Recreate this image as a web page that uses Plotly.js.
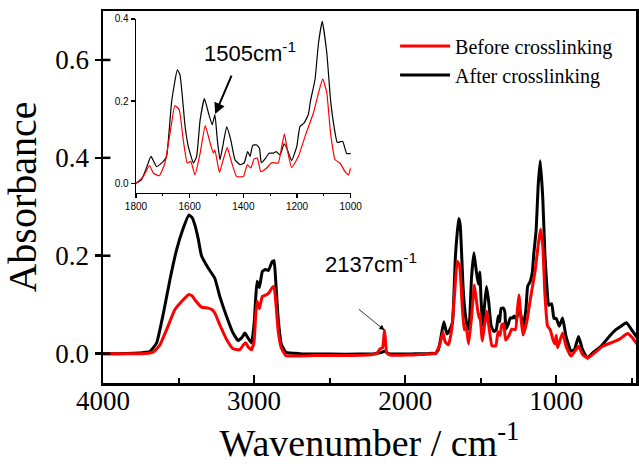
<!DOCTYPE html>
<html>
<head>
<meta charset="utf-8">
<script src="https://cdn.plot.ly/plotly-3.0.1.min.js"></script>
<style>
  html, body { margin: 0; padding: 0; background: #fff; }
  #chart { width: 639px; height: 466px; }
</style>
</head>
<body>
<div id="chart"></div>
<script>
// FTIR spectra of the film before and after crosslinking (absorbance vs wavenumber)
const afterWn = [
  4000, 3900, 3800, 3740, 3690, 3645, 3600, 3557, 3513, 3469,
  3432, 3410, 3392, 3370, 3348, 3304, 3260, 3227, 3182, 3139,
  3106, 3080, 3061, 3040, 3017, 3000, 2990, 2980, 2965, 2945,
  2925, 2905, 2880, 2868, 2855, 2840, 2820, 2790, 2700, 2500,
  2300, 2200, 2160, 2137, 2110, 2000, 1900, 1850, 1820,
  1800, 1780, 1765, 1744, 1723, 1698, 1686, 1667, 1646, 1636,
  1617, 1605, 1586, 1574, 1561, 1545, 1530, 1516, 1506, 1497,
  1487, 1477, 1462, 1447, 1431, 1412, 1397, 1384, 1375, 1365,
  1350, 1340, 1333, 1319, 1304, 1288, 1278, 1263, 1248, 1238,
  1220, 1201, 1189, 1174, 1158, 1149, 1133, 1120, 1106, 1089,
  1075, 1062, 1050, 1030, 1015, 1000,
  980, 958, 935, 902, 880, 852, 826, 793, 760, 704,
  649, 605, 572, 535, 495, 462
];
const afterAbs = [
  0.000, 0.000, 0.001, 0.002, 0.004, 0.022, 0.083, 0.151, 0.212, 0.256,
  0.283, 0.278, 0.263, 0.235, 0.200, 0.175, 0.154, 0.117, 0.076, 0.042,
  0.027, 0.033, 0.042, 0.032, 0.022, 0.060, 0.110, 0.148, 0.135, 0.168,
  0.172, 0.170, 0.188, 0.190, 0.140, 0.070, 0.020, 0.003, 0.000, -0.001,
  -0.001, 0.000, 0.002, 0.005, 0.000, -0.001, 0.000, 0.000, 0.001,
  0.000, 0.008, 0.030, 0.065, 0.040, 0.053, 0.065, 0.200, 0.276, 0.264,
  0.138, 0.089, 0.049, 0.065, 0.154, 0.206, 0.171, 0.142, 0.167, 0.106,
  0.057, 0.089, 0.137, 0.106, 0.057, 0.045, 0.049, 0.077, 0.065, 0.092,
  0.093, 0.085, 0.050, 0.059, 0.073, 0.073, 0.077, 0.069, 0.096, 0.085,
  0.055, 0.089, 0.138, 0.146, 0.167, 0.203, 0.252, 0.341, 0.394, 0.317,
  0.203, 0.138, 0.099, 0.102, 0.072, 0.072,
  0.056, 0.073, 0.035, 0.005, 0.008, 0.035, 0.008, -0.009, 0.001, 0.015,
  0.035, 0.049, 0.056, 0.063, 0.046, 0.032
];

const beforeWn = [
  4000, 3850, 3750, 3700, 3667, 3623, 3579, 3524, 3469, 3432,
  3410, 3392, 3348, 3304, 3280, 3260, 3227, 3182, 3139, 3095,
  3070, 3055, 3040, 3017, 3000, 2990, 2980, 2965, 2945, 2920,
  2900, 2880, 2868, 2855, 2840, 2820, 2790, 2600, 2400, 2250,
  2190, 2165, 2150, 2142, 2137, 2131, 2122, 2100, 2000, 1900,
  1850, 1820,
  1800, 1773, 1750, 1735, 1713, 1692, 1673, 1655, 1639, 1624,
  1609, 1596, 1580, 1561, 1542, 1524, 1512, 1506, 1489, 1475,
  1460, 1443, 1425, 1400, 1385, 1372, 1360, 1348, 1335, 1313,
  1294, 1270, 1257, 1247, 1236, 1220, 1195, 1170, 1139, 1120,
  1104, 1089, 1075, 1058, 1040, 1021, 1008, 1000,
  991, 958, 935, 902, 852, 826, 793, 748, 693, 638,
  583, 528, 495, 462
];
const beforeAbs = [
  0.000, 0.000, 0.000, 0.001, 0.003, 0.018, 0.049, 0.090, 0.110, 0.121,
  0.118, 0.110, 0.095, 0.093, 0.090, 0.083, 0.059, 0.029, 0.010, 0.008,
  0.018, 0.022, 0.014, 0.008, 0.025, 0.075, 0.107, 0.092, 0.117, 0.120,
  0.125, 0.135, 0.137, 0.100, 0.045, 0.012, -0.004, -0.004, -0.004, -0.003,
  0.000, 0.010, 0.012, 0.030, 0.048, 0.030, 0.002, -0.003, -0.003, -0.002,
  -0.001, 0.000,
  0.000, 0.016, 0.043, 0.024, 0.018, 0.049, 0.122, 0.189, 0.179, 0.106,
  0.049, 0.053, 0.020, 0.073, 0.140, 0.098, 0.073, 0.081, 0.026, 0.057,
  0.087, 0.049, 0.016, 0.016, 0.045, 0.037, 0.059, 0.061, 0.028, 0.037,
  0.050, 0.049, 0.089, 0.120, 0.081, 0.038, 0.065, 0.114, 0.171, 0.220,
  0.254, 0.220, 0.122, 0.057, 0.049, 0.028, 0.020, 0.037,
  0.012, 0.042, 0.015, -0.005, 0.015, -0.002, -0.009, 0.001, 0.015, 0.022,
  0.029, 0.041, 0.032, 0.018
];

const seriesNames = ['Before crosslinking', 'After crosslinking'];
const seriesColors = ['#ff0000', '#000000'];
const mainTicks = [4000, 3000, 2000, 1000];
const mainYTicks = [0, 0.2, 0.4, 0.6];
const insetTicks = [1800, 1600, 1400, 1200, 1000];
const insetYTicks = [0, 0.2, 0.4];
const peakLabels = [{ wn: 2137, text: '2137cm<sup>-1</sup>' }, { wn: 1505, text: '1505cm<sup>-1</sup>' }];

const serif = 'Liberation Serif, Times New Roman, serif';
const sans = 'Liberation Sans, Arial, sans-serif';

function valueAt(xs, ys, x) {
  for (let i = 0; i < xs.length - 1; i++) {
    if ((xs[i] - x) * (xs[i + 1] - x) <= 0) {
      const t = (x - xs[i]) / (xs[i + 1] - xs[i]);
      return ys[i] + t * (ys[i + 1] - ys[i]);
    }
  }
  return ys[ys.length - 1];
}

const smooth = { shape: 'spline', smoothing: 0.4 };

const traces = [
  // main spectra (black first so the red curve sits on top)
  { x: afterWn, y: afterAbs, xaxis: 'x', yaxis: 'y', type: 'scatter', mode: 'lines',
    name: seriesNames[1], legendrank: 2, line: Object.assign({ color: seriesColors[1], width: 3 }, smooth) },
  { x: beforeWn, y: beforeAbs, xaxis: 'x', yaxis: 'y', type: 'scatter', mode: 'lines',
    name: seriesNames[0], legendrank: 1, line: Object.assign({ color: seriesColors[0], width: 3 }, smooth) },
  // enlarged fingerprint region
  { x: afterWn, y: afterAbs, xaxis: 'x2', yaxis: 'y2', type: 'scatter', mode: 'lines',
    showlegend: false, line: Object.assign({ color: seriesColors[1], width: 1.2 }, smooth) },
  { x: beforeWn, y: beforeAbs, xaxis: 'x2', yaxis: 'y2', type: 'scatter', mode: 'lines',
    showlegend: false, line: Object.assign({ color: seriesColors[0], width: 1.2 }, smooth) }
];

const spikeY = valueAt(beforeWn, beforeAbs, peakLabels[0].wn);
const shoulderY = valueAt(afterWn, afterAbs, peakLabels[1].wn);

// inward half of the crossing ticks on the left axis
const innerTicks = mainYTicks.map(v => ({
  type: 'line', xref: 'paper', yref: 'y', x0: 0, x1: 0.014, y0: v, y1: v,
  line: { color: '#000', width: 2.5 }
}));

const layout = {
  width: 639, height: 466,
  margin: { l: 103, r: 3, t: 11, b: 83 },
  paper_bgcolor: '#ffffff', plot_bgcolor: 'rgba(0,0,0,0)',
  showlegend: true,
  legend: {
    x: 0.548, y: 0.958, xanchor: 'left', yanchor: 'top',
    bgcolor: 'rgba(0,0,0,0)', borderwidth: 0,
    font: { family: serif, size: 20, color: '#000' },
    itemwidth: 50, tracegroupgap: 0
  },
  xaxis: {
    domain: [0, 1], range: [4000, 472], anchor: 'y',
    tickmode: 'array', tickvals: mainTicks, ticktext: mainTicks.map(String),
    ticks: 'inside', ticklen: 8, tickwidth: 2.5, tickcolor: '#000',
    ticklabelstandoff: -8,
    minor: { dtick: 500, tick0: 0, ticks: 'inside', ticklen: 5, tickwidth: 2, tickcolor: '#000', showgrid: false },
    showline: true, linewidth: 2.5, linecolor: '#000', mirror: true,
    showgrid: false, zeroline: false,
    tickfont: { family: serif, size: 27, color: '#000' },
    title: { text: 'Wavenumber / cm<sup>-1</sup>', font: { family: serif, size: 38, color: '#000' }, standoff: 4 }
  },
  yaxis: {
    domain: [0, 1], range: [-0.06, 0.70], anchor: 'x',
    tickmode: 'array', tickvals: mainYTicks, ticktext: mainYTicks.map(v => v.toFixed(1)),
    ticks: 'outside', ticklen: 6, tickwidth: 2.5, tickcolor: '#000',
    showline: true, linewidth: 2.5, linecolor: '#000', mirror: true,
    showgrid: false, zeroline: false,
    tickfont: { family: serif, size: 27, color: '#000' },
    title: { text: 'Absorbance', font: { family: serif, size: 40, color: '#000' }, standoff: 8 }
  },
  xaxis2: {
    domain: [0.0619, 0.4647], range: [1800, 1000], anchor: 'y2',
    tickmode: 'array', tickvals: insetTicks, ticktext: insetTicks.map(String),
    ticks: 'outside', ticklen: 4, tickwidth: 1.2, tickcolor: '#000',
    minor: { dtick: 100, tick0: 0, ticks: 'outside', ticklen: 2, tickwidth: 1, tickcolor: '#000', showgrid: false },
    showline: true, linewidth: 1.3, linecolor: '#000', mirror: false,
    showgrid: false, zeroline: false,
    tickfont: { family: sans, size: 10, color: '#000' }
  },
  yaxis2: {
    domain: [0.5108, 0.9785], range: [-0.024, 0.40], anchor: 'x2',
    tickmode: 'array', tickvals: insetYTicks, ticktext: insetYTicks.map(v => v.toFixed(1)),
    ticks: 'outside', ticklen: 4, tickwidth: 1.2, tickcolor: '#000',
    showline: true, linewidth: 1.3, linecolor: '#000', mirror: false,
    showgrid: false, zeroline: false,
    tickfont: { family: sans, size: 10, color: '#000' }
  },
  shapes: innerTicks,
  annotations: [
    { xref: 'x', yref: 'y', x: 2229, y: 0.186, text: peakLabels[0].text, showarrow: false,
      font: { family: sans, size: 22, color: '#000' } },
    { xref: 'x', yref: 'y', x: peakLabels[0].wn, y: spikeY, text: '', showarrow: true,
      ax: -27, ay: -22, arrowhead: 2, arrowsize: 1.3, arrowwidth: 0.8, arrowcolor: '#000' },
    { xref: 'x2', yref: 'y2', x: 1375, y: 0.32, text: peakLabels[1].text, showarrow: false,
      font: { family: sans, size: 22, color: '#000' } },
    { xref: 'x2', yref: 'y2', x: peakLabels[1].wn, y: shoulderY + 0.008, text: '', showarrow: true,
      ax: 17, ay: -40, arrowhead: 2, arrowsize: 1.1, arrowwidth: 2, arrowcolor: '#000' }
  ]
};

Plotly.newPlot('chart', traces, layout, { displayModeBar: false, staticPlot: true });
</script>
</body>
</html>
